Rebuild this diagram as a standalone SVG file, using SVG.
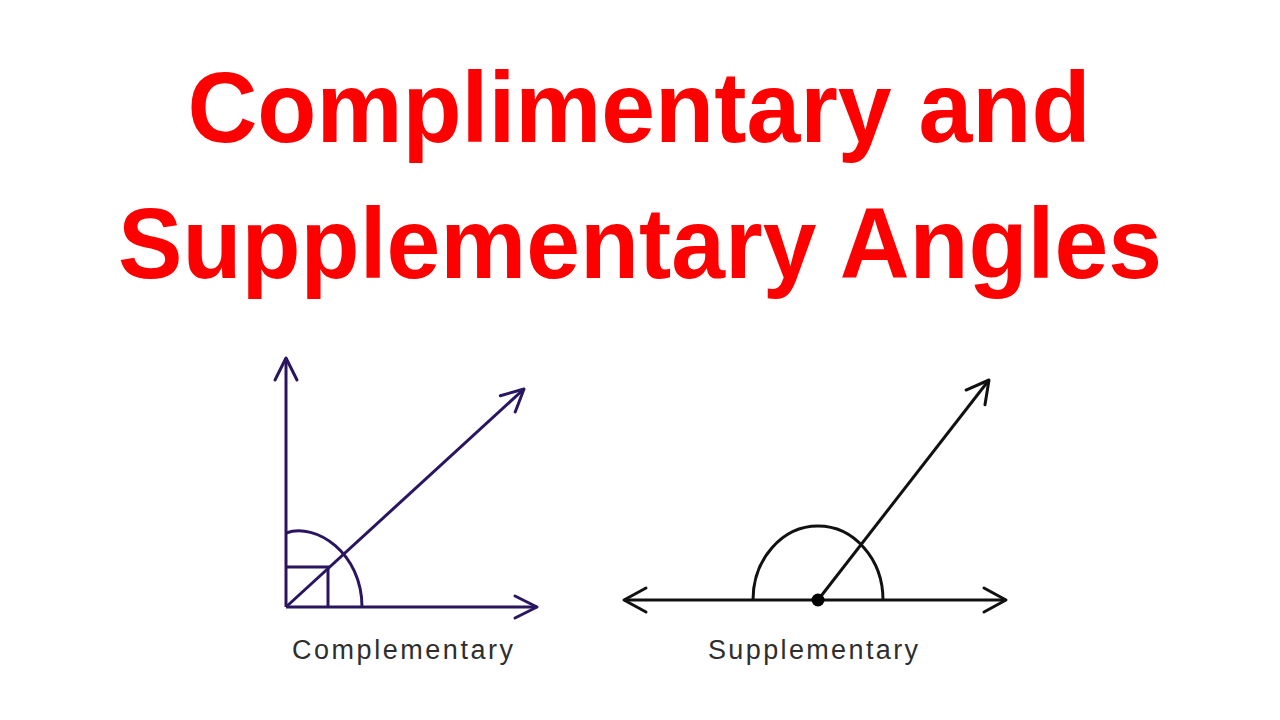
<svg xmlns="http://www.w3.org/2000/svg" width="1280" height="720" viewBox="0 0 1280 720">
<style>
.title{font-family:"Liberation Sans",Arial,sans-serif;font-weight:bold;font-size:100px;fill:#ff0000;text-anchor:middle}
.lbl{font-family:"Liberation Sans",Arial,sans-serif;font-size:27px;fill:#2e2e2e}
.cp{stroke:#2a1660;stroke-width:3;fill:none}
.sp{stroke:#111;stroke-width:3;fill:none}
</style>
<defs>
<marker id="ahc" markerUnits="userSpaceOnUse" markerWidth="30" markerHeight="30" viewBox="-25 -15 30 30" refX="0" refY="0" orient="auto">
<path d="M-22,-11 L0,0 L-22,11" fill="none" stroke="#2a1660" stroke-width="3" stroke-linecap="round" stroke-linejoin="round"/>
</marker>
<marker id="ahs" markerUnits="userSpaceOnUse" markerWidth="30" markerHeight="30" viewBox="-25 -15 30 30" refX="0" refY="0" orient="auto">
<path d="M-22,-12 L0,0 L-22,12" fill="none" stroke="#111" stroke-width="3" stroke-linecap="round" stroke-linejoin="round"/>
</marker>
</defs>
<rect width="1280" height="720" fill="#fff"/>
<g id="title">
<text class="title" x="639" y="142" textLength="903" lengthAdjust="spacingAndGlyphs">Complimentary and</text>
<text class="title" x="640" y="278" textLength="1044" lengthAdjust="spacingAndGlyphs">Supplementary Angles</text>
</g>
<g id="complementary">
<line class="cp" x1="286" y1="607" x2="286" y2="358" marker-end="url(#ahc)"/>
<line class="cp" x1="286" y1="607" x2="537" y2="607" marker-end="url(#ahc)"/>
<line class="cp" x1="286" y1="607" x2="524" y2="389" marker-end="url(#ahc)"/>
<path class="cp" d="M286,533 C316,522 362,553 362,607" stroke-width="2.5"/>
<path class="cp" d="M286,567 L328,567 L328,607" stroke-width="2.5"/>
<text class="lbl" x="292" y="659" textLength="221" lengthAdjust="spacing">Complementary</text>
</g>
<g id="supplementary">
<line class="sp" x1="818" y1="600" x2="624" y2="600" marker-end="url(#ahs)"/>
<line class="sp" x1="818" y1="600" x2="1006" y2="600" marker-end="url(#ahs)"/>
<line class="sp" x1="818" y1="600" x2="989" y2="380" marker-end="url(#ahs)"/>
<path class="sp" d="M753,600 A65,74 0 0 1 883,600" stroke-width="2.5"/>
<circle cx="818" cy="600" r="6.5" fill="#000"/>
<text class="lbl" x="708" y="659" textLength="210" lengthAdjust="spacing">Supplementary</text>
</g>
</svg>
